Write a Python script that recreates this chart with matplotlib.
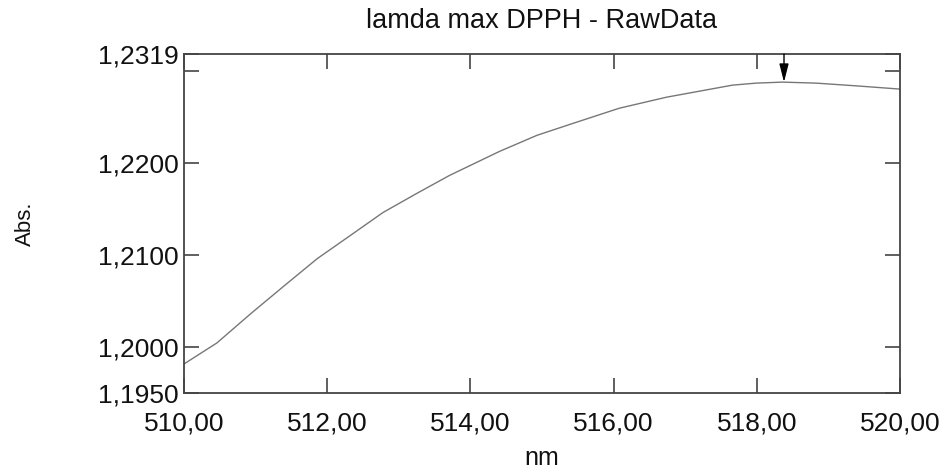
import matplotlib
matplotlib.use("Agg")
import matplotlib.pyplot as plt
import matplotlib.ticker as ticker

# --------- data ------------------------------------
wavelength = [510.00, 510.46, 510.93, 511.40, 511.86, 512.32, 512.78, 513.25,
              513.71, 514.41, 514.93, 515.48, 516.08, 516.74, 517.66, 517.99,
              518.36, 518.83, 519.43, 520.00]
absorbance = [1.19816, 1.20045, 1.20362, 1.20667, 1.20962, 1.21213, 1.21465,
              1.21672, 1.21869, 1.22131, 1.22305, 1.22447, 1.22600, 1.22720,
              1.22851, 1.22873, 1.22884, 1.22873, 1.22841, 1.22808]
peak_nm = 518.38
peak_abs = 1.22884

x_ticks = [510, 512, 514, 516, 518, 520]
y_ticks = [1.1950, 1.2000, 1.2100, 1.2200, 1.2319]
y_extra_tick = [1.2300]   # tick without label
y_min, y_max = 1.1950, 1.2319

# --------- figure ----------
plt.rcParams['font.family'] = ['Liberation Sans', 'DejaVu Sans']
fig = plt.figure(figsize=(9.43, 4.70), dpi=100)
ax = fig.add_axes([0.1951, 0.1638, 0.7593, 0.7213])

ax.plot(wavelength, absorbance, color="#777777", linewidth=1.0)

# peak marker
ax.annotate("", xy=(peak_nm, peak_abs), xytext=(peak_nm, y_max),
            arrowprops=dict(arrowstyle="-|>,head_length=1.1,head_width=0.28",
                            color="black", lw=1.0, shrinkA=0, shrinkB=0))

ax.set_xlim(510, 520)
ax.set_ylim(y_min, y_max)

ax.xaxis.set_major_locator(ticker.FixedLocator(x_ticks))
ax.set_xticklabels([f"{v:.2f}".replace(".", ",") for v in x_ticks])
ax.yaxis.set_major_locator(ticker.FixedLocator(y_ticks + y_extra_tick))
ax.set_yticklabels([f"{v:.4f}".replace(".", ",") for v in y_ticks] + [""])

ax.tick_params(direction="in", length=11, width=1.2, color="#444444",
               top=True, right=True, labelsize=19, labelcolor="#111111")
ax.tick_params(axis="x", pad=13)
ax.tick_params(axis="y", pad=4)

for s in ax.spines.values():
    s.set_linewidth(1.3)
    s.set_color("#444444")

ax.set_xlabel("nm", fontsize=18, color="#111111", labelpad=8)
fig.text(0.027, 0.525, "Abs.", rotation=90, fontsize=16, color="#111111",
         ha="center", va="center")
fig.text(0.5747, 0.955, "lamda max DPPH - RawData", fontsize=19.5,
         color="#111111", ha="center", va="center")

fig.savefig("out.png", dpi=100)
